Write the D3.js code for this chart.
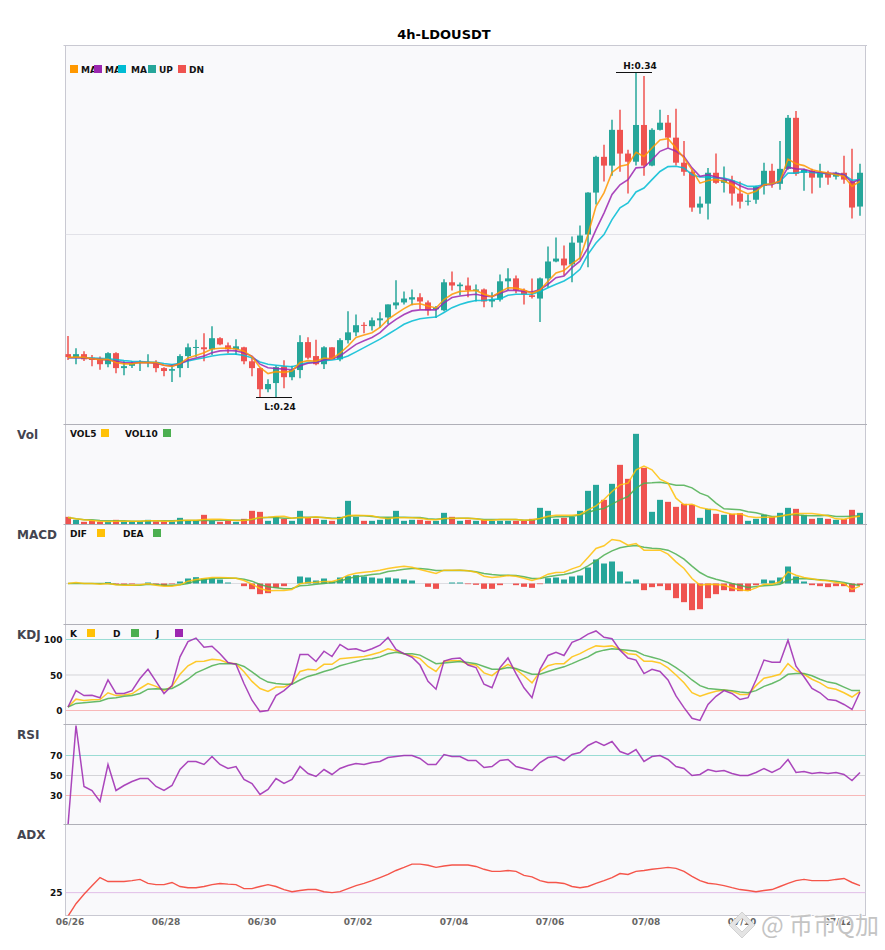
<!DOCTYPE html>
<html>
<head>
<meta charset="utf-8">
<script src="https://cdn.jsdelivr.net/npm/d3@7/dist/d3.min.js"></script>
<style>
  html, body { margin: 0; padding: 0; background: #fff; }
  svg { display: block; }
  text { font-family: "DejaVu Sans", sans-serif; }
</style>
</head>
<body>
<script>
// values, one entry per 4h candle
const dateLabels = ["06/26","06/28","06/30","07/02","07/04","07/06","07/08","07/10","07/12"];
const candlesPerLabel = 12;

const opens = [
  0.2532,0.2523,0.2532,0.2521,0.2516,0.2501,0.2535,0.2489,0.2496,0.2506,
  0.2506,0.2507,0.2489,0.2481,0.2489,0.2526,0.2552,0.2553,0.2547,0.2581,
  0.2559,0.2547,0.2553,0.2510,0.2489,0.2424,0.2443,0.2494,0.2461,0.2483,
  0.2569,0.2526,0.2501,0.2553,0.2516,0.2575,0.2599,0.2622,0.2618,0.2636,
  0.2645,0.2682,0.2691,0.2700,0.2707,0.2691,0.2670,0.2667,0.2753,0.2741,
  0.2743,0.2727,0.2731,0.2694,0.2700,0.2756,0.2765,0.2728,0.2713,0.2703,
  0.2765,0.2817,0.2826,0.2808,0.2875,0.2900,0.3029,0.3139,0.3112,0.3222,
  0.3149,0.3124,0.3237,0.3112,0.3222,0.3244,0.3198,0.3121,0.3093,0.2983,
  0.2995,0.3090,0.3059,0.3066,0.3026,0.3001,0.3007,0.3050,0.3096,0.3056,
  0.3102,0.3259,0.3090,0.3096,0.3075,0.3090,0.3078,0.3090,0.3063,0.2986
];
const highs = [
  0.2588,0.2550,0.2541,0.2529,0.2525,0.2538,0.2538,0.2510,0.2510,0.2513,
  0.2532,0.2513,0.2492,0.2501,0.2532,0.2565,0.2576,0.2596,0.2618,0.2584,
  0.2568,0.2578,0.2555,0.2522,0.2490,0.2455,0.2496,0.2513,0.2496,0.2590,
  0.2584,0.2576,0.2556,0.2553,0.2581,0.2664,0.2654,0.2630,0.2645,0.2661,
  0.2685,0.2759,0.2725,0.2731,0.2719,0.2697,0.2680,0.2762,0.2786,0.2752,
  0.2768,0.2746,0.2734,0.2722,0.2777,0.2796,0.2774,0.2734,0.2765,0.2768,
  0.2863,0.2891,0.2866,0.2894,0.2928,0.3030,0.3142,0.3176,0.3253,0.3284,
  0.3161,0.3400,0.3388,0.3227,0.3284,0.3268,0.3287,0.3188,0.3099,0.3017,
  0.3105,0.3149,0.3109,0.3081,0.3063,0.3023,0.3050,0.3121,0.3118,0.3188,
  0.3268,0.3280,0.3102,0.3102,0.3118,0.3096,0.3093,0.3142,0.3164,0.3118
];
const lows = [
  0.2514,0.2501,0.2511,0.2495,0.2484,0.2492,0.2473,0.2467,0.2489,0.2480,
  0.2492,0.2476,0.2464,0.2446,0.2461,0.2489,0.2523,0.2510,0.2529,0.2559,
  0.2535,0.2529,0.2501,0.2464,0.2400,0.2415,0.2399,0.2427,0.2452,0.2458,
  0.2516,0.2498,0.2486,0.2516,0.2510,0.2565,0.2587,0.2596,0.2605,0.2612,
  0.2624,0.2670,0.2685,0.2682,0.2670,0.2651,0.2643,0.2664,0.2728,0.2713,
  0.2707,0.2694,0.2676,0.2676,0.2694,0.2729,0.2719,0.2685,0.2703,0.2631,
  0.2737,0.2815,0.2774,0.2753,0.2823,0.2799,0.2992,0.3063,0.3081,0.3093,
  0.3026,0.3112,0.3081,0.3110,0.3220,0.3167,0.3112,0.3081,0.2970,0.2964,
  0.2946,0.3056,0.3029,0.2989,0.2980,0.2989,0.2995,0.3023,0.3044,0.3038,
  0.3099,0.3081,0.3035,0.3026,0.3044,0.3053,0.3069,0.3056,0.2949,0.2958
];
const closes = [
  0.2523,0.2532,0.2516,0.2514,0.2501,0.2535,0.2489,0.2495,0.2504,0.2508,
  0.2508,0.2489,0.2480,0.2486,0.2526,0.2553,0.2554,0.2547,0.2581,0.2562,
  0.2547,0.2556,0.2510,0.2489,0.2424,0.2440,0.2492,0.2461,0.2483,0.2569,
  0.2521,0.2501,0.2553,0.2516,0.2575,0.2599,0.2621,0.2620,0.2636,0.2642,
  0.2685,0.2691,0.2703,0.2707,0.2694,0.2667,0.2675,0.2753,0.2743,0.2746,
  0.2728,0.2731,0.2694,0.2700,0.2756,0.2765,0.2728,0.2716,0.2708,0.2765,
  0.2817,0.2826,0.2805,0.2875,0.2897,0.3029,0.3139,0.3112,0.3222,0.3149,
  0.3124,0.3237,0.3112,0.3222,0.3244,0.3198,0.3121,0.3093,0.2983,0.2995,
  0.3090,0.3059,0.3069,0.3026,0.3001,0.3004,0.3047,0.3096,0.3056,0.3102,
  0.3259,0.3087,0.3099,0.3075,0.3090,0.3075,0.3090,0.3069,0.2983,0.3090
];
const ma5 = [
  0.2522,0.2523,0.2522,0.2518,0.2515,0.2516,0.2506,0.2502,0.2502,0.2506,
  0.2506,0.2506,0.2498,0.2494,0.2503,0.2520,0.2528,0.2536,0.2548,0.2550,
  0.2551,0.2548,0.2541,0.2524,0.2491,0.2472,0.2478,0.2476,0.2480,0.2506,
  0.2512,0.2510,0.2520,0.2518,0.2535,0.2557,0.2583,0.2591,0.2598,0.2614,
  0.2639,0.2656,0.2672,0.2685,0.2687,0.2680,0.2674,0.2700,0.2716,0.2725,
  0.2726,0.2728,0.2716,0.2709,0.2723,0.2736,0.2735,0.2729,0.2719,0.2729,
  0.2756,0.2782,0.2789,0.2810,0.2828,0.2900,0.2987,0.3028,0.3091,0.3110,
  0.3115,0.3153,0.3140,0.3166,0.3191,0.3195,0.3166,0.3135,0.3099,0.3058,
  0.3066,0.3069,0.3064,0.3053,0.3036,0.3025,0.3033,0.3053,0.3056,0.3064,
  0.3132,0.3118,0.3112,0.3099,0.3094,0.3089,0.3084,0.3079,0.3048,0.3064
];
const ma10 = [
  0.2521,0.2521,0.2520,0.2518,0.2516,0.2514,0.2510,0.2506,0.2505,0.2506,
  0.2506,0.2504,0.2498,0.2496,0.2502,0.2514,0.2520,0.2526,0.2536,0.2542,
  0.2543,0.2542,0.2536,0.2526,0.2501,0.2490,0.2488,0.2486,0.2484,0.2496,
  0.2504,0.2506,0.2514,0.2518,0.2526,0.2544,0.2562,0.2573,0.2583,0.2598,
  0.2621,0.2639,0.2654,0.2665,0.2668,0.2668,0.2668,0.2690,0.2706,0.2711,
  0.2714,0.2716,0.2711,0.2709,0.2719,0.2728,0.2728,0.2725,0.2723,0.2731,
  0.2747,0.2767,0.2772,0.2798,0.2818,0.2859,0.2915,0.2966,0.3023,0.3053,
  0.3069,0.3105,0.3107,0.3130,0.3156,0.3166,0.3156,0.3140,0.3105,0.3079,
  0.3084,0.3077,0.3071,0.3064,0.3050,0.3040,0.3040,0.3053,0.3053,0.3064,
  0.3107,0.3102,0.3101,0.3094,0.3091,0.3088,0.3088,0.3084,0.3060,0.3069
];
const ma20 = [
  0.2521,0.2521,0.2521,0.2520,0.2519,0.2518,0.2515,0.2512,0.2510,0.2509,
  0.2508,0.2507,0.2503,0.2500,0.2504,0.2511,0.2516,0.2521,0.2526,0.2530,
  0.2532,0.2532,0.2528,0.2521,0.2508,0.2501,0.2498,0.2495,0.2493,0.2500,
  0.2506,0.2508,0.2512,0.2514,0.2518,0.2526,0.2539,0.2552,0.2565,0.2578,
  0.2593,0.2608,0.2624,0.2634,0.2641,0.2644,0.2646,0.2660,0.2675,0.2685,
  0.2692,0.2697,0.2697,0.2700,0.2702,0.2713,0.2716,0.2716,0.2716,0.2725,
  0.2736,0.2747,0.2757,0.2772,0.2793,0.2839,0.2874,0.2900,0.2946,0.2982,
  0.2997,0.3031,0.3043,0.3069,0.3094,0.3109,0.3110,0.3105,0.3084,0.3077,
  0.3077,0.3074,0.3074,0.3067,0.3058,0.3048,0.3048,0.3053,0.3056,0.3064,
  0.3089,0.3089,0.3094,0.3091,0.3089,0.3087,0.3087,0.3084,0.3067,0.3069
];
const volume = [
  23,14,8,11,8,9,14,9,9,9,
  14,9,9,9,20,11,11,29,11,8,
  11,8,17,41,38,11,23,17,11,41,
  20,17,14,11,23,71,23,11,11,14,
  20,41,11,14,14,11,11,35,23,11,
  14,11,14,11,11,11,11,11,17,50,
  41,17,20,23,41,101,119,74,122,179,
  137,272,170,38,74,68,53,62,59,20,
  47,32,29,32,34,11,17,29,23,35,
  50,47,29,17,20,17,14,16,44,35
];
const vol5 = [
  21,17,14,12,10,9,10,10,10,10,
  11,11,10,10,12,13,13,15,16,16,
  14,12,12,16,21,22,24,25,19,21,
  20,23,20,17,18,27,28,27,26,20,
  17,20,20,20,19,15,14,18,19,19,
  19,17,13,13,15,15,15,13,14,18,
  25,28,28,28,30,44,56,75,99,119,
  124,164,175,164,136,124,79,59,61,51,
  46,44,37,31,32,24,21,22,22,25,
  29,33,33,33,30,26,17,16,22,25
];
const vol10 = [
  21,17,14,14,12,11,11,11,10,10,
  11,11,11,11,12,12,12,12,12,13,
  13,13,13,15,20,21,21,19,19,22,
  22,22,21,19,19,25,26,26,24,22,
  22,22,22,21,21,17,16,18,18,19,
  19,17,15,15,15,15,15,13,13,18,
  21,23,23,24,29,36,44,48,61,74,
  84,109,124,125,127,123,118,118,110,94,
  85,64,47,46,44,38,35,29,24,25,
  29,29,27,26,26,28,24,24,25,26
];
const macdHist = [
  0,0,0,0,0,4,-3,-3,-2,0,
  3,-3,-7,-2,6,15,19,15,15,12,
  3,0,-8,-17,-32,-29,-13,-8,0,21,
  18,9,15,6,18,22,25,21,18,15,
  18,15,12,9,0,-10,-16,0,3,3,
  -2,-4,-16,-16,-5,0,-5,-10,-13,-2,
  16,18,12,21,24,48,72,60,66,36,
  6,12,-20,-11,-8,-20,-44,-56,-80,-77,
  -44,-32,-20,-23,-23,-22,-5,12,9,18,
  51,21,6,-5,-8,-11,-8,-8,-26,-5
];
const dif = [
  0,3,0,0,-2,0,-4,-5,-5,-4,
  -1,-5,-8,-8,-4,7,12,15,18,18,
  17,16,9,-2,-15,-22,-21,-21,-18,-1,
  3,4,6,6,13,25,31,34,36,40,
  45,49,52,49,42,36,30,40,40,40,
  38,34,22,18,20,24,22,16,9,16,
  28,33,34,44,52,78,105,113,132,128,
  115,120,100,100,100,88,65,45,15,-5,
  -2,-3,-5,-13,-19,-22,-13,-2,-2,5,
  35,25,18,14,10,8,3,0,-18,-8
];
const dea = [
  0,0,0,0,0,0,-3,-4,-5,-5,
  -2,-3,-5,-5,-4,0,8,12,15,16,
  16,16,13,7,-3,-10,-13,-16,-15,-7,
  -5,-2,0,3,7,15,20,23,27,29,
  36,39,43,45,45,43,39,39,39,40,
  38,35,30,27,25,25,24,20,15,15,
  20,24,27,32,40,53,68,85,98,107,
  112,114,109,106,104,100,88,73,52,33,
  20,13,7,0,-5,-12,-9,-7,-5,-2,
  10,14,15,13,11,9,7,3,-2,-6
];
const kLine = [
  5,16,14,15,15.5,25,21,22,23.5,31,
  38,34,28,34,51,63,69,69.5,72,71,
  67,66,54.5,41,31,27,33,33,39,55,
  58,57,65,65,73,74,75,76,79,82,
  87,84,80,77,73,62,55,69.5,70,70,
  65,64,53,49,58,65,58,49,39,55,
  63,66,66,75.5,80,86,91,90,91,86,
  80,79,69.5,69.5,67,60,50,39,25,20,
  24,27,29,27,22.5,22.5,35,45.5,48,51,
  66,56,51,44,39,32,30,25,19,27
];
const dLine = [
  5,10,11,12,13,17,18,20,21,24,
  30,30.5,30,31,37,44,53,58,63,66,
  66,66,62,54.5,46,40,38,37,37,43,
  48,51,55,58,63,66,69,72,73,75.5,
  80,82,80,80,78,72,66,67,68,69,
  67.5,66,62,58,58,60.5,59,55,51,51,
  55,58.5,61.5,66,71,75.5,82,85,87,86,
  85,83.5,78,75,72,67.5,60.5,52.5,43,35,
  31,30,29,28,26,25,28,34,38,43,
  51,52,52,49,44,40,38,33,28,28
];
const jLine = [
  5,28,21,21.5,18,43,24,24,28,45,
  58,41,24,35,75.5,97,102,89,90.5,80,
  67.5,65,38,14.5,-1.5,0,21,28,38,79,
  79,69,83.5,76,93,86,87,83,87,92,
  103,86,80,75,64,41,30,69.5,73,74,
  64,60.5,37,32,60.5,74,52,32,18,58,
  77.5,82,77.5,96,100.5,107.5,112,103,101,85,
  74,71,52,58,55,43,20.5,4,-11,-14,
  8.5,20,28,24,15.5,18,43,71,68,68,
  99,62.5,47.5,31,25,15.5,14,8.5,1.5,26
];
const rsi = [
  0,100,39,35,24,61,35,40,44,47,
  47,39,35,40,56,64,64,61,69,61,
  57,59,46,42,31,36,47,42,46,59,
  52,49,56,51,57,60,62,61,63,64,
  68,69,70,70,67,61,61,71,69,69,
  65,65,58,59,65,66,59,57,55,63,
  68,69,65,71,73,80,84,80,84,74,
  71,76,64,69,70,66,59,57,50,51,
  56,54,55,52,50,50,53,57,53,57,
  66,53,54,52,53,52,53,51,45,53
];
const adx = [
  15,20.3,24.3,27.9,31.4,29.7,29.7,29.7,30.1,30.6,
  28.9,28.4,28.4,29.3,27.6,27.1,27.1,27.6,28.4,28.9,
  28.6,28.4,26.7,26.7,27.6,28.4,27.6,26.3,25.4,25.9,
  26.3,26.3,25.4,25,25.4,26.7,28,28.9,30.1,31.4,
  32.7,34.4,35.7,37.1,37.1,36.6,35.7,36.3,36.7,36.7,
  36.7,36.1,34.9,34,34,34.4,34,32.3,31.7,30.1,
  29.3,29.3,28.9,27.6,27.1,27.6,28.9,30.1,31.4,33.1,
  32.7,34,34.4,34.9,35.3,35.7,35.3,34,31.9,30.1,
  29,28.6,28,27.1,26.3,25.9,25.4,25.9,26.3,27.6,
  28.9,30.1,30.6,30.1,30.1,30.1,30.6,31,29.3,28
];

const UP = "#26a69a", DN = "#ef5350";
const width = 885, height = 950;
const left = 65.5, right = 865.5;

const svg = d3.select("body").append("svg")
  .attr("width", width)
  .attr("height", height);

svg.append("text")
  .attr("x", 444).attr("y", 39)
  .attr("text-anchor", "middle")
  .style("font-size", "13px").style("font-weight", "bold")
  .text("4h-LDOUSDT");

const idx = d3.range(opens.length);
const x = d3.scaleBand().domain(idx).range([64, 864]).paddingInner(0.25).paddingOuter(0.125);
const cx = i => x(i) + x.bandwidth() / 2;

// one box per indicator
function panel(name, top, bottom, domain) {
  const g = svg.append("g");
  g.append("rect")
    .attr("x", left).attr("y", top)
    .attr("width", right - left).attr("height", bottom - top)
    .attr("fill", "#f9f9fb")
    .attr("stroke", "#c9c9d2");
  g.append("line")
    .attr("x1", left - 2).attr("x2", right + 1.5)
    .attr("y1", top).attr("y2", top)
    .attr("stroke", name ? "#b0b0b8" : "#c9c9d2");
  const id = "clip-" + (name || "main");
  svg.append("clipPath").attr("id", id).append("rect")
    .attr("x", left).attr("y", top)
    .attr("width", right - left).attr("height", bottom - top);
  const y = d3.scaleLinear().domain(domain).range([bottom, top]);
  const plot = g.append("g").attr("clip-path", `url(#${id})`);
  if (name) {
    g.append("text")
      .attr("x", 17).attr("y", top + 10).attr("dy", "0.35em")
      .attr("fill", "#444450")
      .style("font-size", "12px").style("font-weight", "bold")
      .text(name);
  }
  return { g, plot, y, top, bottom };
}

function addLine(p, values, color, w = 1.5, op = 0.85) {
  const line = d3.line().x((d, i) => cx(i)).y(d => p.y(d));
  p.plot.append("path")
    .attr("d", line(values))
    .attr("fill", "none")
    .attr("stroke", color)
    .attr("stroke-width", w)
    .attr("stroke-opacity", op);
}

function addRefs(p, refs) {
  p.plot.selectAll(".ref").data(refs).enter().append("line")
    .attr("class", "ref")
    .attr("x1", left).attr("x2", right)
    .attr("y1", d => p.y(d.v)).attr("y2", d => p.y(d.v))
    .attr("stroke", d => d.c);
}

function addYTicks(p, values) {
  const axis = p.g.append("g")
    .attr("transform", `translate(${left},0)`)
    .call(d3.axisLeft(p.y).tickValues(values).tickSize(0).tickPadding(3));
  axis.select(".domain").remove();
  axis.selectAll("text")
    .attr("dy", "0.36em")
    .attr("fill", "#111")
    .style("font-family", '"DejaVu Sans", sans-serif')
    .style("font-size", "9px").style("font-weight", "bold");
}

function addLegend(p, items) {
  items.forEach(d => {
    p.g.append("text")
      .attr("x", d.tx).attr("y", p.top + d.dy + 0.5).attr("dy", "0.35em")
      .attr("fill", "#111")
      .style("font-size", "9px").style("font-weight", "bold")
      .text(d.label);
  });
  items.forEach(d => {
    p.g.append("rect")
      .attr("x", d.sx).attr("y", p.top + d.dy - 4)
      .attr("width", 8).attr("height", 8)
      .attr("fill", d.color);
  });
}

// main candles
const main = panel("", 45.5, 424.5, [0.23155, 0.34815]);
addRefs(main, [{ v: 0.29, c: "#e2e2e8" }]);

main.plot.selectAll(".wick").data(idx).enter().append("line")
  .attr("class", "wick")
  .attr("x1", cx).attr("x2", cx)
  .attr("y1", i => main.y(highs[i])).attr("y2", i => main.y(lows[i]))
  .attr("stroke", i => closes[i] >= opens[i] ? UP : DN)
  .attr("stroke-width", 1.5);

main.plot.selectAll(".body").data(idx).enter().append("rect")
  .attr("class", "body")
  .attr("x", i => x(i))
  .attr("width", x.bandwidth())
  .attr("y", i => main.y(Math.max(opens[i], closes[i])))
  .attr("height", i => Math.max(1, Math.abs(main.y(opens[i]) - main.y(closes[i]))))
  .attr("fill", i => closes[i] >= opens[i] ? UP : DN);

addLine(main, ma20, "#00bcd4", 1.6);
addLine(main, ma10, "#9c27b0", 1.6);
addLine(main, ma5, "#ff9800", 1.6);

// high / low marks
const hi = d3.greatestIndex(highs), lo = d3.leastIndex(lows);
[
  { i: hi, v: highs[hi], label: "H:" + d3.format(".2f")(highs[hi]), dy: -6.5 },
  { i: lo, v: lows[lo], label: "L:" + d3.format(".2f")(lows[lo]), dy: 9 }
].forEach(m => {
  const yy = Math.round(main.y(m.v)) + 0.5;
  svg.append("line")
    .attr("x1", cx(m.i) - 20).attr("x2", cx(m.i) + 16)
    .attr("y1", yy).attr("y2", yy)
    .attr("stroke", "#111");
  svg.append("text")
    .attr("x", cx(m.i) + 4).attr("y", yy + m.dy).attr("dy", "0.35em")
    .attr("text-anchor", "middle")
    .attr("fill", "#111")
    .style("font-size", "9px").style("font-weight", "bold")
    .text(m.label);
});

addLegend(main, [
  { label: "MA", tx: 81, sx: 70, color: "#ff9800", dy: 23.5 },
  { label: "MA", tx: 105, sx: 94, color: "#9c27b0", dy: 23.5 },
  { label: "MA", tx: 131, sx: 118, color: "#00bcd4", dy: 23.5 },
  { label: "UP", tx: 159, sx: 148, color: UP, dy: 23.5 },
  { label: "DN", tx: 189, sx: 178, color: DN, dy: 23.5 }
]);

// volume
const volP = panel("Vol", 424.5, 524.5, [0, 300]);
volP.plot.selectAll(".bar").data(idx).enter().append("rect")
  .attr("class", "bar")
  .attr("x", i => x(i))
  .attr("width", x.bandwidth())
  .attr("y", i => volP.y(volume[i]))
  .attr("height", i => volP.y(0) - volP.y(volume[i]))
  .attr("fill", i => closes[i] >= opens[i] ? UP : DN);
addLine(volP, vol10, "#4caf50");
addLine(volP, vol5, "#ffc107");
addLegend(volP, [
  { label: "VOL5", tx: 70, sx: 101, color: "#ffc107", dy: 8.5 },
  { label: "VOL10", tx: 125, sx: 163, color: "#4caf50", dy: 8.5 }
]);

// macd
const macdP = panel("MACD", 524.5, 624.5, [-123, 177]);
addRefs(macdP, [{ v: 0, c: "#dddde2" }]);
macdP.plot.selectAll(".bar").data(idx).enter().append("rect")
  .attr("class", "bar")
  .attr("x", i => x(i))
  .attr("width", x.bandwidth())
  .attr("y", i => macdP.y(Math.max(0, macdHist[i])))
  .attr("height", i => Math.abs(macdP.y(macdHist[i]) - macdP.y(0)))
  .attr("fill", i => macdHist[i] >= 0 ? UP : DN);
addLine(macdP, dea, "#4caf50");
addLine(macdP, dif, "#ffc107");
addLegend(macdP, [
  { label: "DIF", tx: 70, sx: 97, color: "#ffc107", dy: 8.5 },
  { label: "DEA", tx: 123, sx: 153, color: "#4caf50", dy: 8.5 }
]);

// kdj
const kdjP = panel("KDJ", 624.5, 724.5, [-19.7, 121.1]);
addRefs(kdjP, [
  { v: 100, c: "#9adcd4" },
  { v: 50, c: "#d4d4d8" },
  { v: 0, c: "#f8b8b8" }
]);
addLine(kdjP, kLine, "#ffc107");
addLine(kdjP, dLine, "#4caf50");
addLine(kdjP, jLine, "#9c27b0");
addYTicks(kdjP, [0, 50, 100]);
addLegend(kdjP, [
  { label: "K", tx: 70, sx: 87, color: "#ffc107", dy: 8.5 },
  { label: "D", tx: 113, sx: 131, color: "#4caf50", dy: 8.5 },
  { label: "J", tx: 156, sx: 175, color: "#9c27b0", dy: 8.5 }
]);

// rsi
const rsiP = panel("RSI", 724.5, 824.5, [1, 101]);
addRefs(rsiP, [
  { v: 70, c: "#9adcd4" },
  { v: 50, c: "#d4d4d8" },
  { v: 30, c: "#f8b8b8" }
]);
addLine(rsiP, rsi, "#9c27b0");
addYTicks(rsiP, [30, 50, 70]);

// adx
const adxP = panel("ADX", 824.5, 915.5, [15.3, 53.9]);
addRefs(adxP, [{ v: 25, c: "#e1bee7" }]);
addLine(adxP, adx, "#f44336", 1.4, 0.9);
addYTicks(adxP, [25]);

// date labels along the bottom
const xAxis = svg.append("g")
  .attr("transform", "translate(2,915.5)")
  .call(d3.axisBottom(x)
    .tickValues(dateLabels.map((d, i) => i * candlesPerLabel))
    .tickFormat((d, i) => dateLabels[i])
    .tickSize(0).tickPadding(3.5));
xAxis.select(".domain").remove();
xAxis.selectAll("text")
  .attr("fill", "#666")
  .style("font-family", '"DejaVu Sans", sans-serif')
  .style("font-size", "9px").style("font-weight", "bold");

// watermark sits on top of the last labels
const mark = svg.append("g");
mark.append("path")
  .attr("d", "M742 912 L755 925 L742 938 L729 925 Z M742 918 L749 925 L742 932 L735 925 Z")
  .attr("fill", "#e4e4e4")
  .attr("fill-rule", "evenodd")
  .attr("stroke", "#bdbdbd").attr("stroke-width", 0.6);
mark.append("text")
  .attr("x", 761).attr("y", 934)
  .attr("fill", "#c4c4c4")
  .attr("stroke", "#fff").attr("stroke-width", 1.5)
  .attr("paint-order", "stroke")
  .style("font-family", '"Noto Sans CJK SC", sans-serif')
  .style("font-size", "24px")
  .text("@ 币币Q加");
</script>
</body>
</html>
